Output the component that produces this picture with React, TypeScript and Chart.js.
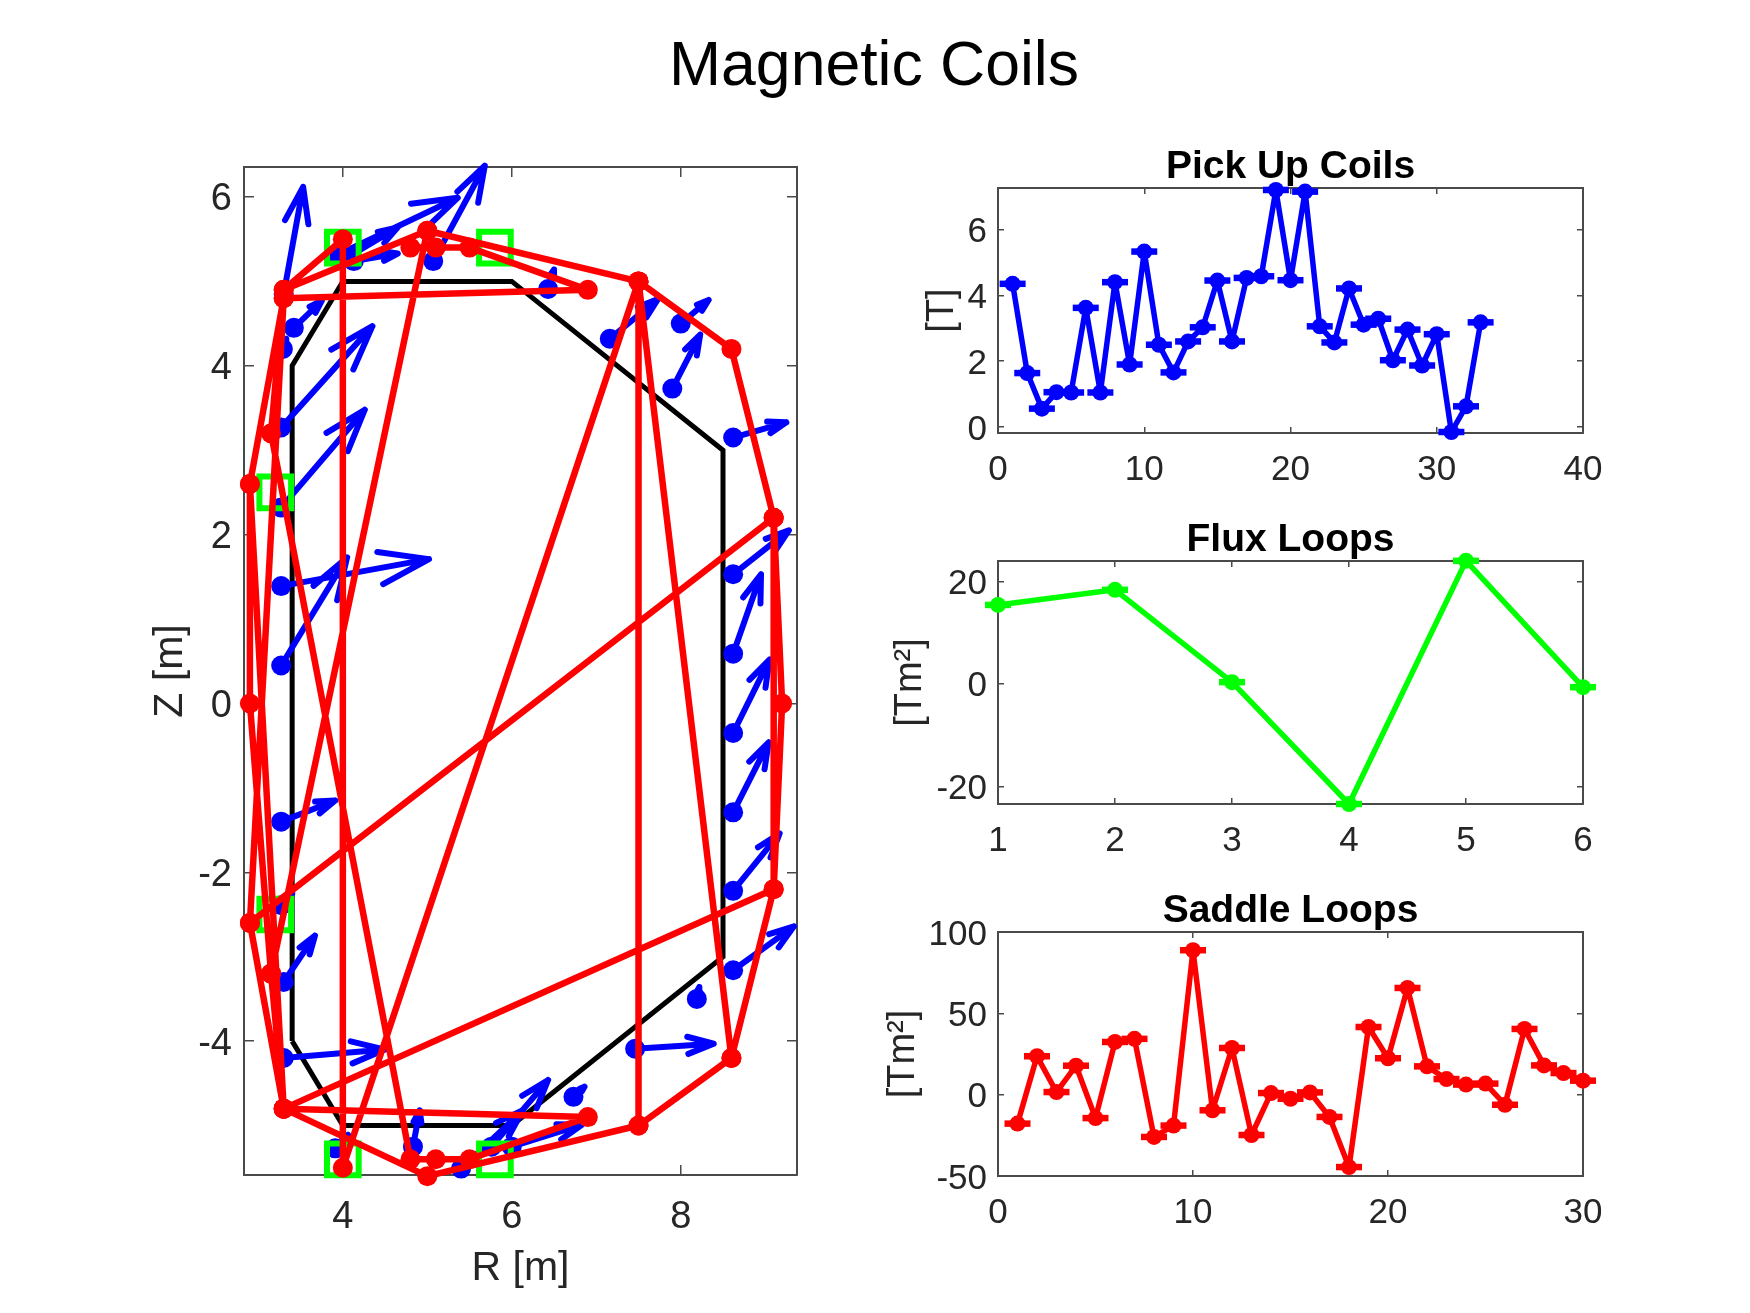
import React, { useEffect, useRef } from "react";
import { Chart, registerables } from "chart.js";

Chart.register(...registerables);

const FONT = "'Liberation Sans', Arial, sans-serif";
const N = NaN;

// ---------- equilibrium panel ----------
const wallR = [3.4, 3.4, 4, 6, 8.5, 8.5, 6, 4, 3.4];
const wallZ = [-4, 4, 5, 5, 3, -3, -5, -5, -4];

const probeR = [3.27, 3.27, 3.27, 3.27, 3.29, 3.42, 3.3, 3.91, 5.07, 4.13, 4.05, 6.43, 7.16, 8.0, 7.9, 8.62, 8.62, 8.62, 8.62, 8.62, 8.62, 8.62, 8.19, 7.46, 6.73, 6.0, 5.76, 5.4, 4.83, 3.91, 3.3, 3.3, 3.27, 3.27];
const probeZ = [0.45, 1.39, 2.32, 3.27, 4.2, 4.45, 4.85, 5.3, 5.24, 5.24, 5.28, 4.91, 4.32, 4.5, 3.73, 3.15, 1.53, 0.59, -0.35, -1.29, -2.22, -3.16, -3.5, -4.09, -4.66, -5.25, -5.25, -5.51, -5.25, -5.27, -4.2, -3.3, -1.4, -2.39];
const tipR = [4.05, 5.02, 4.26, 4.35, 3.33, 3.75, 3.53, 5.36, 5.68, 4.65, 4.65, 6.5, 7.73, 8.33, 8.23, 9.25, 9.28, 8.95, 9.05, 9.04, 9.17, 9.34, 8.22, 8.39, 6.86, 6.83, 6.43, 6.13, 4.91, 4.06, 4.5, 3.67, 3.91, 3.4];
const tipZ = [1.73, 1.71, 3.48, 4.47, 4.32, 4.77, 6.12, 5.99, 6.37, 5.33, 5.64, 5.14, 4.79, 4.78, 4.37, 3.33, 2.05, 1.53, 0.52, -0.46, -1.54, -2.64, -3.36, -4.03, -4.54, -4.99, -4.46, -4.82, -4.82, -5.11, -4.1, -2.75, -1.15, -2.25];

const fluxR = [4, 5.8, 3.2, 3.2, 4, 5.8];
const fluxZ = [5.4, 5.4, 2.5, -2.5, -5.4, -5.4];

const saddleR = [3.3, 4, 4, 7.5, 7.5, 5, 3.3, 6.9, 5.5, 5.1, 4.8, 3.15, 3.3, 5, 7.5, 8.6, 9.1, 9.2, 9.1, 8.6, 7.5, N, 7.5, 8.6, N, 9.1, 9.1, 3.3, N, 9.1, 2.9, 3.3, 6.9, 5.5, 5.1, 4.8, N, 5, 3.15, 2.9, 2.9, 3.3, N, 2.9, 3.3, 3.15, N, 2.9, 3.3];
const saddleZ = [4.9, 5.5, -5.5, 5, -5, -5.6, -4.8, -4.9, -5.4, -5.4, -5.4, 3.2, 4.9, 5.6, 5, 4.2, 2.2, 0, -2.2, -4.2, -5, N, 5, -4.2, N, 2.2, -2.2, -4.8, N, 2.2, -2.6, 4.8, 4.9, 5.4, 5.4, 5.4, N, 5.6, -3.2, 0, 2.6, 4.8, N, -2.6, -4.8, -3.2, N, 2.6, -4.8];

const rTicks = [4, 6, 8];
const zTicks = [-4, -2, 0, 2, 4, 6];

// ---------- signal panels ----------
const pickupValues = [4.35, 1.64, 0.56, 1.06, 1.05, 3.62, 1.05, 4.4, 1.9, 5.33, 2.5, 1.66, 2.6, 3.03, 4.45, 2.6, 4.53, 4.58, 7.2, 4.46, 7.15, 3.06, 2.57, 4.21, 3.11, 3.29, 2.03, 2.96, 1.87, 2.82, -0.15, 0.63, 3.18];
const fluxValues = [15.4, 18.35, 0.33, -23.45, 24.0, -0.65];
const saddleValues = [-17.8, 23.6, 1.6, 17.8, -14.4, 32.4, 34.3, -26, -19, 88.8, -9.6, 28.7, -24.8, 1, -2.5, 1.4, -13.7, -44.5, 41.6, 22.4, 65.6, 17.4, 9.6, 6.2, 6.8, -6.2, 40.4, 18, 13.3, 8.6];

const pickupXTicks = [0, 10, 20, 30, 40];
const pickupYTicks = [0, 2, 4, 6];
const fluxXTicks = [1, 2, 3, 4, 5, 6];
const fluxYTicks = [-20, 0, 20];
const saddleXTicks = [0, 10, 20, 30];
const saddleYTicks = [-50, 0, 50, 100];

const pts = (xs: number[], ys: number[]) => xs.map((x, i) => ({ x, y: ys[i] }));

function quiverPoints() {
  const out: { x: number; y: number }[] = [];
  const a = 0.33;
  const b = 0.33 * a;
  probeR.forEach((r, i) => {
    const z = probeZ[i];
    const tr = tipR[i];
    const tz = tipZ[i];
    const u = tr - r;
    const v = tz - z;
    out.push({ x: r, y: z }, { x: tr, y: tz }, { x: N, y: N });
    out.push({ x: tr - a * u + b * v, y: tz - a * v - b * u }, { x: tr, y: tz }, { x: tr - a * u - b * v, y: tz - a * v + b * u }, { x: N, y: N });
  });
  return out;
}

type AxisCfg = {
  min: number; max: number; ticks: number[]; tickLen: number; tickFont: number;
  tickGap: number; size: number; farSize: number;
  title?: string; titleFont?: number; titlePad?: any;
};

function axisPair(id: string, far: string, horizontal: boolean, c: AxisCfg) {
  const setTicks = (s: any) => { s.ticks = c.ticks.map((value) => ({ value })); };
  const common = {
    type: "linear", min: c.min, max: c.max, afterBuildTicks: setTicks,
    border: { display: true, color: "#4a4a4a", width: 2 },
    grid: { drawOnChartArea: false, drawTicks: true, tickLength: -c.tickLen, color: "#4a4a4a", lineWidth: 1.5 },
  };
  const near: any = {
    ...common, axis: horizontal ? "x" : "y", position: horizontal ? "bottom" : "left",
    afterFit: (s: any) => { if (horizontal) s.height = c.size; else s.width = c.size; },
    ticks: {
      autoSkip: false, maxRotation: 0, minRotation: 0, includeBounds: false,
      padding: c.tickLen + c.tickGap, color: "#262626", labelOffset: horizontal ? 0 : 3,
      font: { family: FONT, size: c.tickFont, lineHeight: 1 },
    },
    title: c.title ? {
      display: true, text: c.title, color: "#262626", padding: c.titlePad,
      font: { family: FONT, size: c.titleFont, lineHeight: 1 },
    } : { display: false },
  };
  const opp: any = {
    ...common, axis: horizontal ? "x" : "y", position: horizontal ? "top" : "right",
    afterFit: (s: any) => { if (horizontal) s.height = c.farSize; else s.width = c.farSize; },
    ticks: { display: false },
  };
  return { [id]: near, [far]: opp };
}

function useChart(ref: React.RefObject<HTMLCanvasElement | null>, make: () => any) {
  useEffect(() => {
    const chart = new Chart(ref.current as HTMLCanvasElement, make());
    return () => chart.destroy();
  }, []);
}

function baseOptions(scales: any, title?: string) {
  return {
    animation: false, responsive: false, devicePixelRatio: 1, maintainAspectRatio: false,
    layout: { padding: 0, autoPadding: false },
    plugins: {
      legend: { display: false }, tooltip: { enabled: false },
      title: title ? {
        display: true, text: title, color: "#000000", padding: { top: 0, bottom: 1 },
        font: { family: FONT, size: 39, weight: "bold", lineHeight: 1 },
      } : { display: false },
    },
    scales,
  };
}

function Equilibrium() {
  const ref = useRef<HTMLCanvasElement>(null);
  useChart(ref, () => ({
    type: "scatter",
    data: {
      datasets: [
        { label: "Saddle Loops", order: 1, data: pts(saddleR, saddleZ), showLine: true, clip: false, borderColor: "#ff0000", borderWidth: 6.5, borderJoinStyle: "round", pointRadius: 10, pointBackgroundColor: "#ff0000", pointBorderWidth: 0, spanGaps: false },
        { label: "Flux Loops", order: 2, data: pts(fluxR, fluxZ), showLine: false, clip: false, pointStyle: "rect", pointRadius: 22.4, pointBackgroundColor: "transparent", pointBorderColor: "#00ff00", pointBorderWidth: 6 },
        { label: "Pick Up Coils", order: 3, data: pts(probeR, probeZ), showLine: false, clip: false, pointRadius: 10, pointBackgroundColor: "#0000ff", pointBorderWidth: 0 },
        { label: "Pick Up Field", order: 4, data: quiverPoints(), showLine: true, clip: false, borderColor: "#0000ff", borderWidth: 6, borderCapStyle: "round", borderJoinStyle: "round", pointRadius: 0, spanGaps: false },
        { label: "Wall", order: 5, data: pts(wallR, wallZ), showLine: true, clip: false, borderColor: "#000000", borderWidth: 5, pointRadius: 0 },
      ],
    },
    options: baseOptions({
      ...axisPair("x", "x2", true, { min: 2.83, max: 9.376, ticks: rTicks, tickLen: 10, tickFont: 38, tickGap: 24, size: 120, farSize: 40, title: "R [m]", titleFont: 41, titlePad: { top: 0, bottom: 6 } }),
      ...axisPair("y", "y2", false, { min: -5.586, max: 6.355, ticks: zTicks, tickLen: 10, tickFont: 38, tickGap: 12, size: 104, farSize: 40, title: "Z [m]", titleFont: 41, titlePad: { top: 10, bottom: 0 } }),
    }),
  }));
  return <canvas ref={ref} width={697} height={1169} style={{ position: "absolute", left: 140, top: 126 }} />;
}

type PanelProps = {
  title: string; yLabel: string; values: number[]; color: string;
  xMin: number; xMax: number; yMin: number; yMax: number;
  xTicks: number[]; yTicks: number[]; plotTop: number; plotBottom: number; labelPad: number;
};

function Panel(p: PanelProps) {
  const ref = useRef<HTMLCanvasElement>(null);
  const top = p.plotTop - 40;
  const bottomSize = 60;
  useChart(ref, () => {
    const data = p.values.map((y, i) => ({ x: i + 1, y }));
    return {
      type: "scatter",
      data: {
        datasets: [
          { label: p.title, data, showLine: true, clip: false, borderColor: p.color, borderWidth: 5.5, borderJoinStyle: "round", pointRadius: 8, pointBackgroundColor: p.color, pointBorderWidth: 0 },
          { label: p.title + " error", data, showLine: false, clip: false, pointStyle: "line", pointRadius: 13, pointBorderColor: p.color, pointBorderWidth: 6.5 },
        ],
      },
      options: baseOptions({
        ...axisPair("x", "x2", true, { min: p.xMin, max: p.xMax, ticks: p.xTicks, tickLen: 6, tickFont: 35, tickGap: 20, size: bottomSize, farSize: 0 }),
        ...axisPair("y", "y2", false, { min: p.yMin, max: p.yMax, ticks: p.yTicks, tickLen: 6, tickFont: 35, tickGap: 11, size: 118, farSize: 118, title: p.yLabel, titleFont: 38, titlePad: { top: p.labelPad, bottom: 0 } }),
      }, p.title),
    };
  });
  return <canvas ref={ref} width={821} height={p.plotBottom - top + bottomSize} style={{ position: "absolute", left: 880, top }} />;
}

export default function App() {
  return (
    <div style={{ position: "absolute", left: 0, top: 0, width: 1750, height: 1313, background: "#ffffff", overflow: "hidden" }}>
      <div style={{ position: "absolute", left: 0, width: 1748, top: 28, textAlign: "center", fontFamily: FONT, fontSize: 62.5, lineHeight: "70px", color: "#000000" }}>
        Magnetic Coils
      </div>
      <Equilibrium />
      <Panel title="Pick Up Coils" yLabel="[T]" values={pickupValues} color="#0000ff" xMin={0} xMax={40} yMin={-0.18} yMax={7.26} xTicks={pickupXTicks} yTicks={pickupYTicks} plotTop={188} plotBottom={433} labelPad={44} />
      <Panel title="Flux Loops" yLabel="[Tm²]" values={fluxValues} color="#00ff00" xMin={1} xMax={6} yMin={-23.45} yMax={23.97} xTicks={fluxXTicks} yTicks={fluxYTicks} plotTop={561} plotBottom={804} labelPad={12} />
      <Panel title="Saddle Loops" yLabel="[Tm²]" values={saddleValues} color="#ff0000" xMin={0} xMax={30} yMin={-50} yMax={100} xTicks={saddleXTicks} yTicks={saddleYTicks} plotTop={932} plotBottom={1176} labelPad={5} />
    </div>
  );
}
